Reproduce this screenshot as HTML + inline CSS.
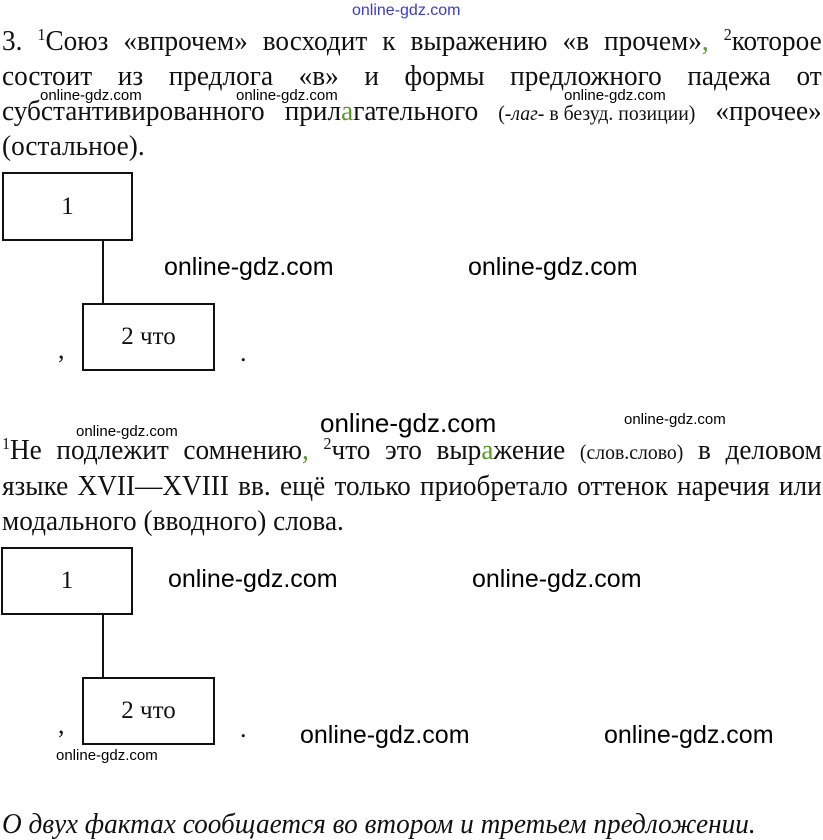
<!DOCTYPE html>
<html><head><meta charset="utf-8"><style>
body{margin:0;width:823px;height:838px;background:#fff;position:relative;overflow:hidden;font-family:"Liberation Serif",serif;color:#111}
.l{position:absolute;left:2px;font-size:29px;line-height:30px;white-space:nowrap;transform-origin:0 0;transform:scaleX(0.94)}
.j{width:872px;text-align:justify;text-align-last:justify}
sup{font-size:17px;vertical-align:10px;line-height:0}
.g{color:#5a9a2a}
.s{font-size:21px;display:inline-block}
.w{position:absolute;font-family:"Liberation Sans","DejaVu Sans",sans-serif;color:#000;white-space:nowrap}
.ws{font-size:15px}
.wb{font-size:25px}
.box{position:absolute;border:2px solid #111;box-sizing:border-box;font-size:25px;display:flex;align-items:center;justify-content:center}
.v{position:absolute;width:2px;background:#111}
.p{position:absolute;font-size:26px}
</style></head><body>
<div class="w" style="left:352px;top:2px;font-size:16px;color:#3a3ad8">online-gdz.com</div>
<div class="l j" style="top:26px">3. <sup>1</sup>Союз «впрочем» восходит к выражению «в прочем»<span class="g">,</span> <sup>2</sup>которое</div>
<div class="l j" style="top:61px">состоит из предлога «в» и формы предложного падежа от</div>
<div class="l j" style="top:96px">субстантивированного прил<span class="g">а</span>гательного <span class="s">(-<i>лаг-</i> в безуд. позиции)</span> «прочее»</div>
<div class="l" style="top:131px">(остальное).</div>
<div class="w ws" style="left:40px;top:87px">online-gdz.com</div>
<div class="w ws" style="left:236px;top:87px">online-gdz.com</div>
<div class="w ws" style="left:564px;top:87px">online-gdz.com</div>

<div class="box" style="left:2px;top:172px;width:131px;height:69px">1</div>
<div class="v" style="left:102px;top:240px;height:64px"></div>
<div class="box" style="left:82px;top:303px;width:133px;height:68px">2 что</div>
<div class="p" style="left:58px;top:335px">,</div>
<div class="p" style="left:240px;top:338px">.</div>
<div class="w wb" style="left:164px;top:253px">online-gdz.com</div>
<div class="w wb" style="left:468px;top:253px">online-gdz.com</div>

<div class="w wb" style="left:320px;top:408px;font-size:26px">online-gdz.com</div>
<div class="w ws" style="left:624px;top:411px">online-gdz.com</div>
<div class="w ws" style="left:76px;top:423px">online-gdz.com</div>
<div class="l j" style="top:435px"><sup>1</sup>Не подлежит сомнению<span class="g">,</span> <sup>2</sup>что это выр<span class="g">а</span>жение <span class="s">(слов.слово)</span> в деловом</div>
<div class="l j" style="top:471px">языке XVII—XVIII вв. ещё только приобретало оттенок наречия или</div>
<div class="l" style="top:506px">модального (вводного) слова.</div>

<div class="box" style="left:1px;top:547px;width:132px;height:68px">1</div>
<div class="v" style="left:102px;top:614px;height:64px"></div>
<div class="box" style="left:82px;top:677px;width:133px;height:68px">2 что</div>
<div class="p" style="left:58px;top:710px">,</div>
<div class="p" style="left:240px;top:714px">.</div>
<div class="w wb" style="left:168px;top:565px">online-gdz.com</div>
<div class="w wb" style="left:472px;top:565px">online-gdz.com</div>
<div class="w wb" style="left:300px;top:721px">online-gdz.com</div>
<div class="w wb" style="left:604px;top:721px">online-gdz.com</div>
<div class="w ws" style="left:56px;top:747px">online-gdz.com</div>

<div class="l" style="top:809px;font-style:italic">О двух фактах сообщается во втором и третьем предложении.</div>
</body></html>
